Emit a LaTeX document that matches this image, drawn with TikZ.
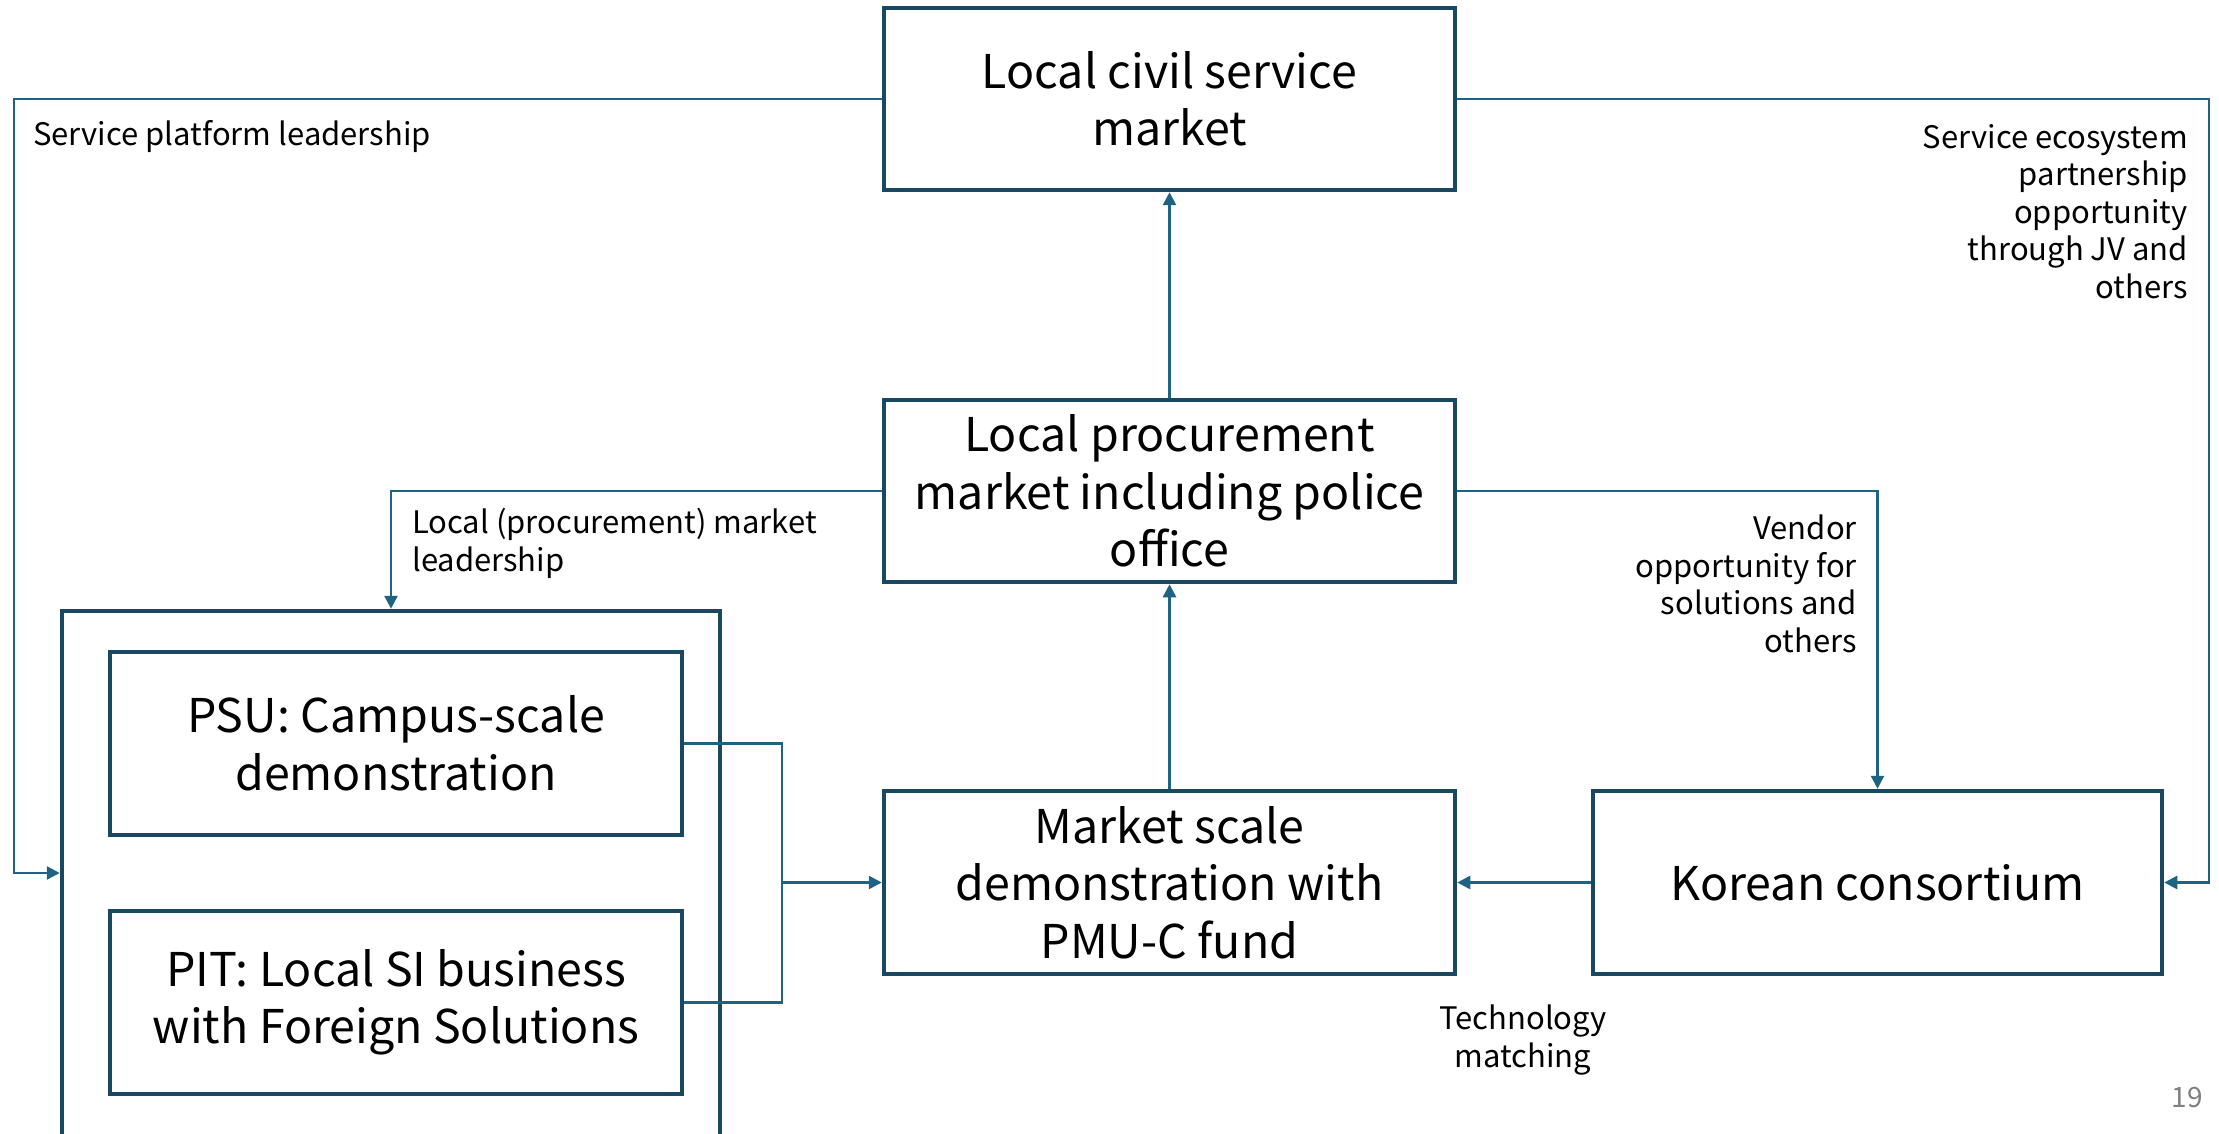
\documentclass[tikz,border=0pt]{standalone}
\usepackage{fontspec}
\setmainfont{Noto Sans CJK KR}
\usetikzlibrary{arrows.meta}
\definecolor{boxc}{RGB}{24,72,98}
\definecolor{connc}{RGB}{30,98,132}
\definecolor{numc}{RGB}{128,128,128}
\tikzset{
  box/.style={draw=boxc, line width=4.5pt, fill=white, align=center, inner sep=0pt,
    font=\fontsize{46.5}{57.5}\selectfont},
  conn/.style={draw=connc, line width=2.6pt, -{Triangle[length=13pt,width=13pt]}},
  plain/.style={draw=connc, line width=2.6pt},
  lbl/.style={inner sep=0pt, font=\fontsize{31}{37.5}\selectfont}
}
\begin{document}
\begin{tikzpicture}[x=1pt,y=-1pt]
\path[use as bounding box, clip] (0,0) rectangle (2219,1134);
\fill[white] (0,0) rectangle (2219,1134);
% boxes
\node[box, minimum width=571pt, minimum height=182pt] (T) at (1169.5,99) {Local civil service\\market};
\node[box, minimum width=571pt, minimum height=182pt] (M) at (1169.5,491) {Local procurement\\market including police\\office};
\node[box, minimum width=571pt, minimum height=183pt] (S) at (1169.5,882.5) {Market scale\\demonstration with\\PMU-C fund};
\node[box, minimum width=569pt, minimum height=183pt] (K) at (1877.5,882.5) {Korean consortium};
\node[box, minimum width=658pt, minimum height=549pt] (C) at (391,885.5) {};
\node[box, minimum width=572pt, minimum height=183pt] (P) at (396,743.5) {PSU: Campus-scale\\demonstration};
\node[box, minimum width=572pt, minimum height=183pt] (I) at (396,1002.5) {PIT: Local SI business\\with Foreign Solutions};
% coordinates
\coordinate (lt) at (14,873);
\coordinate (rr) at (2209,0);
\coordinate (J) at (782,0);
% connectors
\draw[conn] (T.west) -| (lt) -- (C.west |- lt);
\draw[conn] (T.east) -| (rr |- K.east) -- (K.east);
\draw[conn] (M.north) -- (T.south);
\draw[conn] (S.north) -- (M.south);
\draw[conn] (M.west) -| (C.north);
\draw[conn] (M.east) -| (K.north);
\draw[conn] (K.west) -- (S.east);
\draw[plain] (P.east) -| (J |- I.east) -- (I.east);
\draw[conn] (J |- S.west) -- (S.west);
% labels
\node[lbl, anchor=base west] (l1) at (33,146) {Service platform leadership};
\node[lbl, anchor=north east, align=right] (l2) at (2188,124) {Service ecosystem\\partnership\\opportunity\\through JV and\\others};
\node[lbl, anchor=north west, align=left] (l3) at (412,508) {Local (procurement) market\\leadership};
\node[lbl, anchor=north east, align=right] (l4) at (1857,515) {Vendor\\opportunity for\\solutions and\\others};
\node[lbl, align=center] (l5) at (1523,1040) {Technology\\matching};
\node[inner sep=0pt, text=numc, font=\fontsize{28}{32}\selectfont] (pg) at (2187,1098) {19};
\end{tikzpicture}
\end{document}
